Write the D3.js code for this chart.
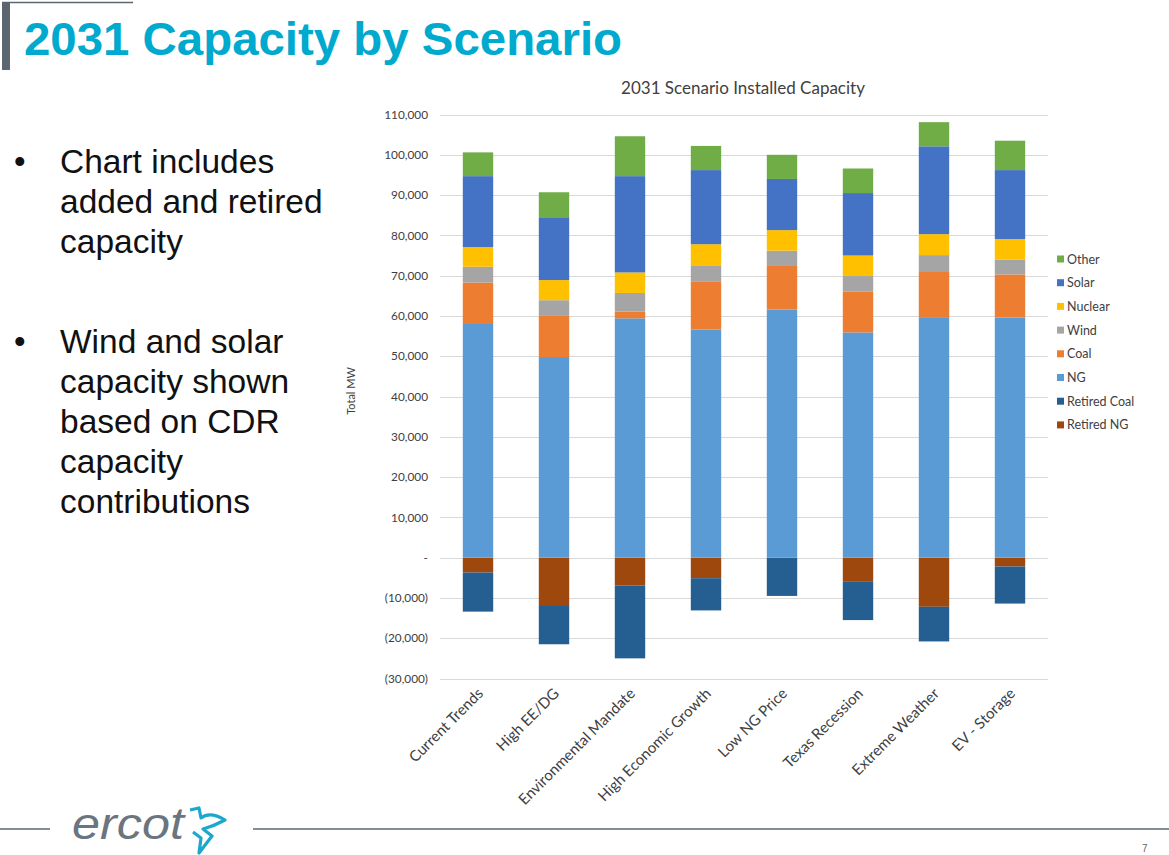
<!DOCTYPE html>
<html>
<head>
<meta charset="utf-8">
<script src="https://cdn.jsdelivr.net/npm/d3@7"></script>
<style>
  html, body { margin: 0; padding: 0; background: #fff; }
  svg { display: block; }
</style>
</head>
<body>
<svg id="page" width="1169" height="855"></svg>
<script>
// ---------- DATA ----------
const categories = ["Current Trends", "High EE/DG", "Environmental Mandate", "High Economic Growth",
                    "Low NG Price", "Texas Recession", "Extreme Weather", "EV - Storage"];
// series in Excel order (first = nearest zero)
const retiredNG   = [-3700, -12000, -6900, -5100, 0, -6000, -12200, -2200];
const retiredCoal = [-9700, -9500, -18100, -8000, -9500, -9500, -8600, -9200];
const ng          = [58000, 49800, 59400, 56600, 61600, 55900, 59700, 59600];
const coal        = [10300, 10200, 1700, 12000, 10800, 10200, 11200, 10700];
const wind        = [3900, 3900, 4600, 3800, 3800, 3800, 4200, 3700];
const nuclear     = [4900, 5000, 5100, 5400, 5100, 5100, 5200, 5100];
const solar       = [17600, 15600, 23900, 18400, 12700, 15500, 21800, 17100];
const other       = [5900, 6200, 9900, 6000, 6000, 6100, 6000, 7300];
const seriesNames = ["Retired NG", "Retired Coal", "NG", "Coal", "Wind", "Nuclear", "Solar", "Other"];
const yTicks = [-30000, -20000, -10000, 0, 10000, 20000, 30000, 40000, 50000, 60000, 70000, 80000, 90000, 100000, 110000];
const bullets = [
  ["Chart includes", "added and retired", "capacity"],
  ["Wind and solar", "capacity shown", "based on CDR", "capacity", "contributions"]
];

// ---------- STYLE ----------
const colors = {
  "Retired NG": "#9E480E", "Retired Coal": "#255E91", "NG": "#5B9BD5", "Coal": "#ED7D31",
  "Wind": "#A5A5A5", "Nuclear": "#FFC000", "Solar": "#4472C4", "Other": "#70AD47"
};
const chartFont = "Lato, 'Open Sans', sans-serif";
const seriesValues = [retiredNG, retiredCoal, ng, coal, wind, nuclear, solar, other];

const svg = d3.select("#page");

// ---------- SLIDE DECORATION ----------
svg.append("rect").attr("x", 2).attr("y", 2).attr("width", 8).attr("height", 68).attr("fill", "#5B6670");
svg.append("line").attr("x1", 2).attr("x2", 133).attr("y1", 2.5).attr("y2", 2.5)
   .attr("stroke", "#5B6670").attr("stroke-width", 1.5);
svg.append("text").attr("x", 24).attr("y", 55)
   .attr("font-family", "'Liberation Sans', Arial, sans-serif").attr("font-weight", "bold")
   .attr("font-size", 47).attr("fill", "#00A9CE")
   .attr("textLength", 598).attr("lengthAdjust", "spacingAndGlyphs")
   .text("2031 Capacity by Scenario");

// bullets
const bStarts = [173, 353];
bullets.forEach((lines, bi) => {
  svg.append("text").attr("x", 14).attr("y", bStarts[bi])
     .attr("font-family", "'Liberation Sans', Arial, sans-serif").attr("font-size", 33)
     .attr("fill", "#111").text("•");
  lines.forEach((ln, li) => {
    svg.append("text").attr("x", 60).attr("y", bStarts[bi] + li * 40)
       .attr("font-family", "'Liberation Sans', Arial, sans-serif").attr("font-size", 33.5)
       .attr("fill", "#111").text(ln);
  });
});

// footer
svg.append("line").attr("x1", 0).attr("x2", 50).attr("y1", 829).attr("y2", 829)
   .attr("stroke", "#5B6670").attr("stroke-width", 1.5);
svg.append("line").attr("x1", 253).attr("x2", 1169).attr("y1", 829).attr("y2", 829)
   .attr("stroke", "#5B6670").attr("stroke-width", 1.5);
svg.append("text").attr("x", 72).attr("y", 839)
   .attr("font-family", "'Liberation Sans Narrow', 'Liberation Sans', sans-serif")
   .attr("font-style", "italic").attr("font-size", 45).attr("fill", "#6B7580")
   .attr("textLength", 112).attr("lengthAdjust", "spacingAndGlyphs")
   .text("ercot");
svg.append("path")
   .attr("d", "M190,810 L199,808 L201,818 Q210,811 225,820 Q214,826 203,829 L212,836 L199,853 L201,838 L193,832")
   .attr("fill", "none").attr("stroke", "#1BA8CC").attr("stroke-width", 3.2).attr("stroke-linejoin", "round");
svg.append("text").attr("x", 1142).attr("y", 852)
   .attr("font-family", "'Liberation Sans', Arial, sans-serif").attr("font-size", 10)
   .attr("fill", "#666").text("7");

// ---------- CHART ----------
const plotLeft = 440, plotRight = 1048, plotTop = 114.5, plotBottom = 678.5;
const y = d3.scaleLinear().domain([-30000, 110000]).range([plotBottom, plotTop]);
const x = d3.scaleBand().domain(categories).range([plotLeft, plotRight])
            .paddingInner(0.6).paddingOuter(0.3);

svg.append("text").attr("x", 743).attr("y", 94).attr("text-anchor", "middle")
   .attr("font-family", chartFont).attr("font-size", 17).attr("fill", "#404040")
   .text("2031 Scenario Installed Capacity");

// gridlines
svg.append("g").selectAll("line").data(yTicks).join("line")
   .attr("x1", plotLeft).attr("x2", plotRight)
   .attr("y1", d => Math.round(y(d)) + 0.5).attr("y2", d => Math.round(y(d)) + 0.5)
   .attr("stroke", "#D9D9D9").attr("stroke-width", 1);

// y axis labels via d3 axis
const fmt = d => d === 0 ? "-" : (d < 0 ? "(" + d3.format(",")(-d) + ")" : d3.format(",")(d));
const yAxis = svg.append("g").attr("transform", `translate(${plotLeft - 12},0)`)
   .call(d3.axisLeft(y).tickValues(yTicks).tickFormat(fmt).tickSize(0).tickPadding(0));
yAxis.select(".domain").remove();
yAxis.selectAll("text").attr("font-family", chartFont).attr("font-size", 11.8).attr("fill", "#404040");

svg.append("text").attr("transform", `translate(355,391) rotate(-90)`).attr("text-anchor", "middle")
   .attr("font-family", chartFont).attr("font-size", 11).attr("fill", "#404040").text("Total MW");

// stacked bars
const rows = categories.map((c, i) => {
  const r = { cat: c };
  seriesNames.forEach((s, si) => r[s] = seriesValues[si][i]);
  return r;
});
const stack = d3.stack().keys(seriesNames).offset(d3.stackOffsetDiverging);
const layers = stack(rows);
svg.append("g").selectAll("g").data(layers).join("g")
   .attr("fill", d => colors[d.key])
   .selectAll("rect").data(d => d).join("rect")
   .attr("x", d => x(d.data.cat))
   .attr("width", x.bandwidth())
   .attr("y", d => y(Math.max(d[0], d[1])))
   .attr("height", d => Math.abs(y(d[0]) - y(d[1])));

// x labels
svg.append("g").selectAll("text").data(categories).join("text")
   .attr("transform", d => `translate(${x(d) + x.bandwidth() / 2 + 6},${plotBottom + 16}) rotate(-45)`)
   .attr("text-anchor", "end")
   .attr("font-family", chartFont).attr("font-size", 15).attr("fill", "#404040")
   .text(d => d);

// legend
const legendOrder = seriesNames.slice().reverse();
const lg = svg.append("g").selectAll("g").data(legendOrder).join("g")
   .attr("transform", (d, i) => `translate(1057,${259 + i * 23.7})`);
lg.append("rect").attr("x", 0).attr("y", -3.5).attr("width", 7).attr("height", 7).attr("fill", d => colors[d]);
lg.append("text").attr("x", 10).attr("y", 4.5).attr("font-family", chartFont).attr("font-size", 12.5)
  .attr("fill", "#404040").text(d => d);
</script>
</body>
</html>
